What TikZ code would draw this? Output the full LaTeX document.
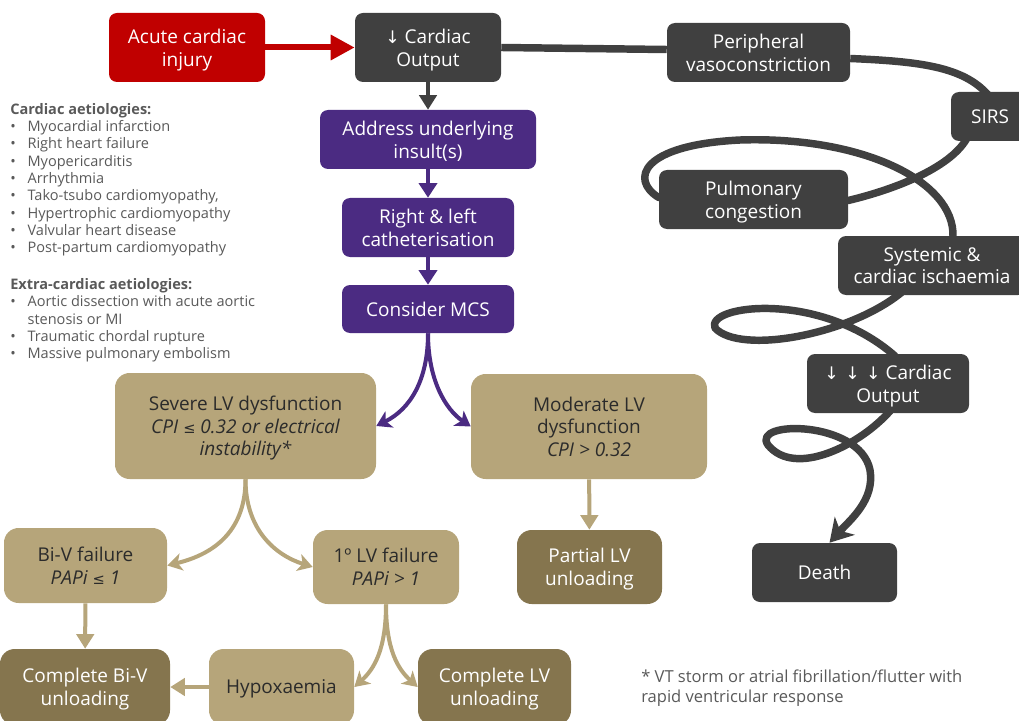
\documentclass[tikz,border=0pt]{standalone}
\usepackage{fontspec}
\setmainfont{Open Sans}
\newfontfamily\symf{DejaVu Sans}
\usetikzlibrary{arrows.meta,calc}
\pgfdeclarelayer{bg}
\pgfsetlayers{bg,main}
\definecolor{cred}{HTML}{C00000}
\definecolor{cdark}{HTML}{404040}
\definecolor{cpurp}{HTML}{4B2B82}
\definecolor{ctan}{HTML}{B6A57A}
\definecolor{cdtan}{HTML}{85754E}
\definecolor{cgray}{HTML}{595959}
\definecolor{ctext}{HTML}{2B2B2B}
\newcommand\boxfnt{\fontsize{14.25pt}{17pt}\selectfont}
\newcommand\listfnt{\fontsize{10.9pt}{13pt}\selectfont}
\newcommand\footfnt{\fontsize{12.4pt}{14.5pt}\selectfont}
\newcommand\darr{{\symf\fontsize{13pt}{13pt}\selectfont ↓}}
\newcommand\leqs{{\symf\fontsize{11pt}{11pt}\selectfont ≤}}
\newcommand\bul{\makebox[13pt][l]{•}}
\tikzset{
  sz/.style 2 args={minimum width=#1*0.75pt, minimum height=#2*0.75pt},
  box/.style={rectangle, rounded corners=6pt, align=center, inner sep=0pt, text depth=0pt, font=\boxfnt},
  rbox/.style={box, fill=cred, text=white},
  dbox/.style={box, fill=cdark, text=white},
  pbox/.style={box, fill=cpurp, text=white},
  tbox/.style={box, fill=ctan, text=ctext, rounded corners=11pt},
  dtbox/.style={box, fill=cdtan, text=white, rounded corners=11pt},
  redarr/.style={draw=cred, line width=4.5pt, -{Triangle[length=18pt,width=18pt]}},
  darkarr/.style={draw=cdark, line width=3.6pt, -{Triangle[length=11pt,width=13pt]}},
  parr/.style={draw=cpurp, line width=3.6pt, -{Triangle[length=11pt,width=13.5pt]}},
  pcurv/.style={draw=cpurp, line width=3pt, -{Stealth[length=11pt,width=13.5pt,inset=3pt]}},
  tarr/.style={draw=ctan, line width=3pt, -{Triangle[length=11pt,width=13pt]}},
  tcurv/.style={draw=ctan, line width=3pt, -{Stealth[length=11pt,width=13pt,inset=3pt]}},
  dline/.style={draw=cdark, line width=5.6pt, line join=round},
}
\begin{document}
\begin{tikzpicture}[x=0.75pt,y=-0.75pt]
\useasboundingbox (0,0) rectangle (1019,720);
% nodes
\node[rbox,sz={156}{69}] (acute) at (187,47.5) {Acute cardiac\\injury};
\node[dbox,sz={146}{69}] (co1) at (428,47.5) {\darr\ Cardiac\\Output};
\node[pbox,sz={216}{59}] (addr) at (428,139.5) {Address underlying\\insult(s)};
\node[pbox,sz={172}{59}] (cath) at (428,227.5) {Right \& left\\catheterisation};
\node[pbox,sz={172}{48}] (mcs) at (428,309) {Consider MCS};
\node[dbox,sz={183}{59}] (peri) at (758.5,52.5) {Peripheral\\vasoconstriction};
\node[dbox,sz={78}{49}] (sirs) at (990,116.5) {SIRS};
\node[dbox,sz={189}{59}] (pulm) at (753.5,199.5) {Pulmonary\\congestion};
\node[dbox,sz={188}{59}] (sys) at (932,265.5) {Systemic \&\\cardiac ischaemia};
\node[dbox,sz={162}{59}] (co3) at (888,383.5) {\darr\,\,\darr\,\,\darr\ Cardiac\\Output};
\node[dbox,sz={145}{59}] (death) at (824.5,572.5) {Death};
\node[tbox,sz={261}{106}] (sev) at (245.5,426) {Severe LV dysfunction\\{\itshape CPI \leqs\ 0.32 or electrical}\\{\itshape instability*}};
\node[tbox,sz={236}{105}] (mod) at (589,426.5) {Moderate LV\\dysfunction\\{\itshape CPI > 0.32}};
\node[tbox,sz={163}{75}] (biv) at (85.5,565.5) {Bi-V failure\\{\itshape PAPi \leqs\ 1}};
\node[tbox,sz={146}{74}] (lv1) at (386,567) {1º LV failure\\{\itshape PAPi > 1}};
\node[dtbox,sz={145}{74}] (part) at (589.5,567) {Partial LV\\unloading};
\node[dtbox,sz={170}{76}] (cbiv) at (85,687) {Complete Bi-V\\unloading};
\node[tbox,sz={145}{76}] (hyp) at (281.5,687) {Hypoxaemia};
\node[dtbox,sz={153}{76}] (clv) at (494.5,687) {Complete LV\\unloading};
% left text
\node[anchor=north west, inner sep=0pt, align=left, font=\listfnt, text=cgray] (aet) at (10,103) {%
{\bfseries Cardiac aetiologies:}\\
\bul Myocardial infarction\\
\bul Right heart failure\\
\bul Myopericarditis\\
\bul Arrhythmia\\
\bul Tako-tsubo cardiomyopathy,\\
\bul Hypertrophic cardiomyopathy\\
\bul Valvular heart disease\\
\bul Post-partum cardiomyopathy\\[14.5pt]
{\bfseries Extra-cardiac aetiologies:}\\
\bul Aortic dissection with acute aortic\\
\hspace*{13pt}stenosis or MI\\
\bul Traumatic chordal rupture\\
\bul Massive pulmonary embolism};
\node[anchor=north west, inner sep=0pt, align=left, font=\footfnt, text=cgray] (fn) at (641,670) {* VT storm or atrial fibrillation/flutter with\\rapid ventricular response};
% connectors
\draw[redarr] (acute) -- (co1);
\draw[darkarr] (co1) -- (addr);
\draw[parr] (addr) -- (cath);
\draw[parr] (cath) -- (mcs);
\draw[pcurv] (mcs.south) .. controls +(0,47) and +(34,-17) .. (sev.east);
\draw[pcurv] (mcs.south) .. controls +(0,47) and +(-25,-17) .. (mod.west);
\draw[tcurv] (sev.south) .. controls +(0,50) and +(49,-12) .. (biv.east);
\draw[tcurv] (sev.south) .. controls +(0,50) and +(-38,-12) .. (lv1.west);
\draw[tarr] (biv) -- (cbiv);
\draw[tcurv] (lv1.south) .. controls +(0,45) and +(20,-18) .. (hyp.east);
\draw[tcurv] (lv1.south) .. controls +(0,45) and +(-20,-18) .. (clv.west);
\draw[tarr] (hyp) -- (cbiv);
\draw[tarr] (mod) -- (part);
\begin{pgfonlayer}{bg}
\draw[dline] (co1.east) -- ($(peri.west)+(0,-3)$);
\draw[dline, -{Stealth[length=17pt,width=20pt,inset=5pt]}]
  ($(peri.east)+(0,6)$) .. controls +(70,3) and +(-25,-28) .. ($(sirs.north)+(-2,3)$)
  -- (sirs.center) -- ($(sirs.south)+(-22,-5)$)
  .. controls +(-15,30) and +(50,-12) .. ($(pulm.east)+(0,1)$)
  -- ($(pulm.west)+(0,-2)$)
  .. controls (630,180) and (640,145) .. (740,140)
  .. controls (860,136) and (955,180) .. (953,237)
  -- (902,292)
  .. controls (850,335) and (740,355) .. (715,328)
  .. controls (705,305) and (820,290) .. (895,356)
  -- (890,411)
  .. controls (860,445) and (795,478) .. (768,445)
  .. controls (750,420) and (860,420) .. (870,470)
  .. controls (875,500) and (850,520) .. ($(death.north)+(5,0)$);
\end{pgfonlayer}
\end{tikzpicture}
\end{document}
